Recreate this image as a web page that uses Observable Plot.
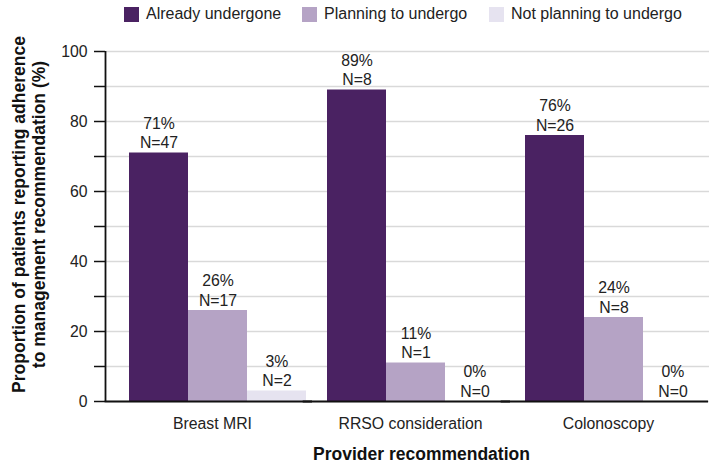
<!DOCTYPE html>
<html>
<head>
<meta charset="utf-8">
<script src="https://cdn.jsdelivr.net/npm/d3@7"></script>
<script src="https://cdn.jsdelivr.net/npm/@observablehq/plot@0.6"></script>
<style>
  html, body { margin: 0; padding: 0; background: #fff; }
  body { width: 709px; height: 468px; overflow: hidden; font-family: "Liberation Sans", Arial, sans-serif; }
  #legend { position: relative; height: 30px; font-size: 16px; color: #222; }
  .item { position: absolute; top: 5px; display: flex; align-items: center; white-space: nowrap; }
  .sw { width: 15px; height: 15px; margin-right: 7px; }
  #wrap { position: relative; width: 709px; height: 438px; }
  #wrap svg { position: absolute; left: 0; top: 0; }
</style>
</head>
<body>
<div id="legend"></div>
<div id="wrap"></div>
<script>
// ---- data ----
const categories = ["Breast MRI", "RRSO consideration", "Colonoscopy"];
const seriesNames = ["Already undergone", "Planning to undergo", "Not planning to undergo"];
const seriesColors = ["#4a2262", "#b5a3c5", "#e6e3f0"];
const breastMRI = [71, 26, 3];
const rrso = [89, 11, 0];
const colonoscopy = [76, 24, 0];
const breastMRI_N = [47, 17, 2];
const rrso_N = [8, 1, 0];
const colonoscopy_N = [26, 8, 0];
const yTicks = [0, 10, 20, 30, 40, 50, 60, 70, 80, 90, 100];
const yTitle = "Proportion of patients reporting adherence\nto management recommendation (%)";
const xTitle = "Provider recommendation";

const values = [breastMRI, rrso, colonoscopy];
const counts = [breastMRI_N, rrso_N, colonoscopy_N];
const rows = [];
categories.forEach((c, i) => seriesNames.forEach((s, j) => rows.push({category: c, series: s, value: values[i][j], n: counts[i][j]})));

// ---- legend ----
const legendLeft = [124, 302, 489];
const legend = document.getElementById("legend");
seriesNames.forEach((s, j) => {
  const it = document.createElement("div");
  it.className = "item";
  it.style.left = legendLeft[j] + "px";
  const sw = document.createElement("span");
  sw.className = "sw";
  sw.style.background = seriesColors[j];
  it.appendChild(sw);
  it.appendChild(document.createTextNode(s));
  legend.appendChild(it);
});

const W = 709, H = 438, MT = 21, MB = 67;
const font = "Liberation Sans, Arial, sans-serif";

// ---- background plot: grid, y axis, titles ----
const bg = Plot.plot({
  width: W, height: H,
  marginLeft: 105, marginRight: 0, marginTop: MT, marginBottom: MB,
  style: {fontFamily: font, fontSize: "15px", color: "#222", background: "white"},
  x: {domain: [0, 1], axis: null},
  y: {domain: [0, 100], axis: null},
  marks: [
    Plot.gridY(yTicks, {stroke: "#d9d9d9", strokeOpacity: 1, strokeWidth: 1.5}),
    Plot.axisY(yTicks, {tickFormat: d => d % 20 === 0 ? d : "", tickSize: 11, tickPadding: 7, stroke: "#111", strokeWidth: 1.5, fontSize: 15.8, label: null}),
    Plot.ruleX([0], {stroke: "#111", strokeWidth: 1.8}),
    Plot.text([yTitle], {frameAnchor: "left", textAnchor: "middle", lineAnchor: "middle", text: d => d, rotate: -90, dx: -77, dy: -12, fontSize: 17.5, fontWeight: "bold", lineHeight: 1.15, fill: "#111"}),
    Plot.text([xTitle], {frameAnchor: "bottom", textAnchor: "middle", text: d => d, dx: 14, dy: 58, fontSize: 17.5, fontWeight: "bold", fill: "#111"})
  ]
});

// ---- foreground plot: grouped bars ----
const fg = Plot.plot({
  width: W, height: H,
  marginLeft: 128, marginRight: 6, marginTop: MT, marginBottom: MB,
  style: {fontFamily: font, fontSize: "15px", color: "#222", background: "transparent"},
  fx: {domain: categories, paddingInner: 0.101, paddingOuter: 0, label: null},
  x: {domain: seriesNames, axis: null, padding: 0},
  y: {domain: [0, 100], axis: null},
  color: {domain: seriesNames, range: seriesColors},
  marks: [
    Plot.barY(rows, {fx: "category", x: "series", y: "value", fill: "series"}),
    Plot.ruleY([0], {stroke: "#111", strokeWidth: 1.8, insetLeft: -23.3, insetRight: -6}),
    Plot.text(rows, {fx: "category", x: "series", y: "value", text: d => `${d.value}%\nN=${d.n}`, lineAnchor: "bottom", dy: -5, fontSize: 15.8, lineHeight: 1.22, fill: "#222"}),
    Plot.axisFx({anchor: "bottom", tickSize: 0, tickPadding: 16, fontSize: 15.8, dx: -5, label: null})
  ]
});

const wrap = document.getElementById("wrap");
wrap.appendChild(bg);
wrap.appendChild(fg);
</script>
</body>
</html>
